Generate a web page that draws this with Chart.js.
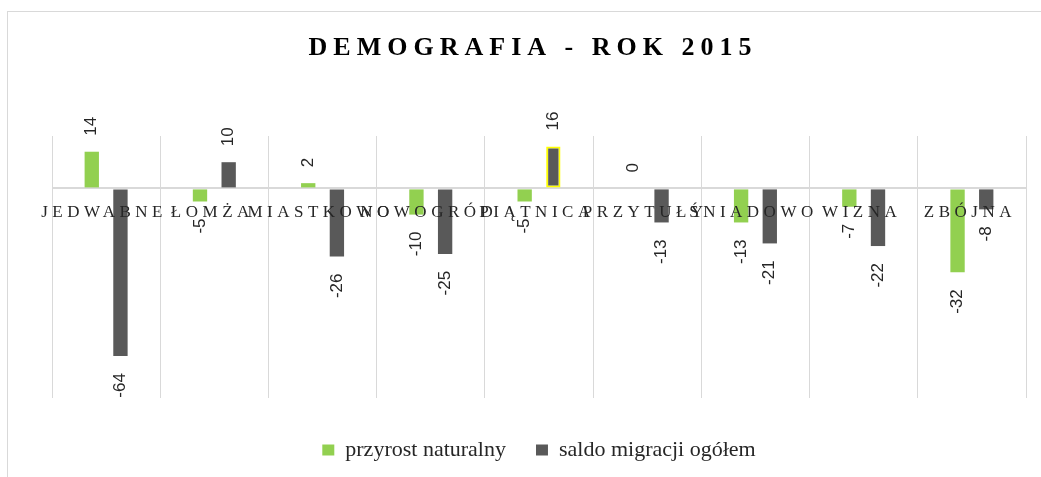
<!DOCTYPE html>
<html lang="pl">
<head>
    <meta charset="UTF-8">
    <title>Demografia - rok 2015</title>
    <script src="https://cdn.jsdelivr.net/npm/chart.js"></script>
    <style>
        body { margin: 0; overflow: hidden; background: #fff; }
        .chart-box {
            position: absolute;
            left: 7px;
            top: 11px;
            width: 1060px;
            height: 490px;
            border: 1px solid #d9d9d9;
        }
    </style>
</head>
<body>
    <div class="chart-box">
        <canvas id="demoChart"></canvas>
    </div>

    <script>
        // Data
        const chartTitle = 'DEMOGRAFIA - ROK 2015';
        const gminy = ['JEDWABNE', 'ŁOMŻA', 'MIASTKOWO', 'NOWOGRÓD', 'PIĄTNICA', 'PRZYTUŁY', 'ŚNIADOWO', 'WIZNA', 'ZBÓJNA'];
        const przyrostNaturalny = [14, -5, 2, -10, -5, 0, -13, -7, -32];
        const saldoMigracji = [-64, 10, -26, -25, 16, -13, -21, -22, -8];
        const seriesNames = ['przyrost naturalny', 'saldo migracji ogółem'];

        const selectedBar = 4; // bar with yellow outline (PIĄTNICA, saldo)

        // Title + category labels (need letter spacing, so drawn by hand)
        const textPlugin = {
            id: 'spacedText',
            afterDatasetsDraw(chart) {
                const ctx = chart.ctx;
                const area = chart.chartArea;
                const x = chart.scales.x;
                const zeroY = chart.scales.y.getPixelForValue(0);
                ctx.save();
                ctx.fillStyle = '#000';
                ctx.textAlign = 'center';
                ctx.textBaseline = 'middle';
                ctx.font = 'bold 26px "Liberation Serif"';
                ctx.letterSpacing = '6px';
                ctx.fillText(chartTitle, (area.left + area.right) / 2 - 6, 36);

                ctx.fillStyle = '#262626';
                ctx.font = '17px "Liberation Serif"';
                ctx.letterSpacing = '4.5px';
                gminy.forEach((name, i) => {
                    ctx.fillText(name, x.getPixelForValue(i) - 2, zeroY + 24);
                });
                ctx.restore();
            }
        };

        // Rotated value labels outside bar ends
        const valueLabels = {
            id: 'valueLabels',
            afterDatasetsDraw(chart) {
                const ctx = chart.ctx;
                ctx.save();
                ctx.font = '17px "Liberation Sans"';
                ctx.fillStyle = '#262626';
                ctx.textBaseline = 'middle';
                chart.data.datasets.forEach((ds, di) => {
                    chart.getDatasetMeta(di).data.forEach((bar, i) => {
                        const v = ds.data[i];
                        ctx.save();
                        if (v >= 0) {
                            ctx.translate(bar.x, bar.y - 16);
                            ctx.textAlign = 'left';
                        } else {
                            ctx.translate(bar.x, bar.y + 17);
                            ctx.textAlign = 'right';
                        }
                        ctx.rotate(-Math.PI / 2);
                        ctx.fillText(String(v), 0, 0);
                        ctx.restore();
                    });
                });
                ctx.restore();
            }
        };

        const ctx = document.getElementById('demoChart').getContext('2d');
        const demoChart = new Chart(ctx, {
            type: 'bar',
            data: {
                labels: gminy,
                datasets: [{
                    label: seriesNames[0],
                    data: przyrostNaturalny,
                    backgroundColor: '#92d050',
                    borderWidth: 0
                }, {
                    label: seriesNames[1],
                    data: saldoMigracji,
                    backgroundColor: '#595959',
                    borderColor: '#ffff00',
                    borderWidth: c => c.dataIndex === selectedBar ? 2 : 0,
                    borderSkipped: false
                }]
            },
            options: {
                responsive: true,
                maintainAspectRatio: false,
                animation: false,
                barPercentage: 0.5,
                categoryPercentage: 0.53,
                layout: {
                    padding: { top: 124, left: 44, right: 42, bottom: 31 }
                },
                scales: {
                    x: {
                        grid: { color: '#d9d9d9', drawTicks: false, offset: true },
                        border: { display: false },
                        ticks: { display: false },
                        afterFit: s => { s.height = 11; }
                    },
                    y: {
                        min: -80,
                        max: 20,
                        grid: {
                            drawTicks: false,
                            lineWidth: 2,
                            color: c => c.tick && c.tick.value === 0 ? '#d9d9d9' : 'rgba(0,0,0,0)'
                        },
                        border: { display: false },
                        ticks: { display: false, stepSize: 10 },
                        afterFit: s => { s.width = 0; }
                    }
                },
                plugins: {
                    title: { display: false },
                    tooltip: { enabled: false },
                    legend: {
                        position: 'bottom',
                        labels: {
                            boxWidth: 12,
                            boxHeight: 11,
                            padding: 30,
                            color: '#262626',
                            font: { family: '"Liberation Serif"', size: 22 }
                        }
                    }
                }
            },
            plugins: [textPlugin, valueLabels]
        });
    </script>
</body>
</html>
